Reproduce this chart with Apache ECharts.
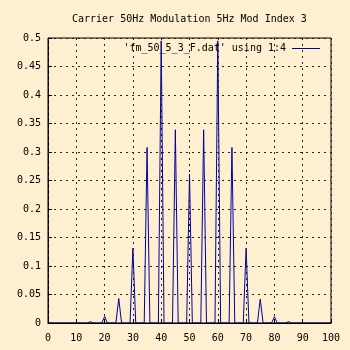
<!DOCTYPE html>
<html>
<head>
<meta charset="utf-8">
<script src="https://cdn.jsdelivr.net/npm/echarts@6/dist/echarts.min.js"></script>
<style>
  html, body { margin: 0; padding: 0; background: #fdefcf; }
  #chart { width: 350px; height: 350px; }
</style>
</head>
<body>
<div id="chart"></div>
<script>
// FM spectrum: carrier 50 Hz, modulation 5 Hz, index 3.
// Spectrum bins are 1 Hz apart; only the carrier and sideband bins carry energy.
const sidebandHz  = [15, 20, 25, 30, 35, 40, 45, 50, 55, 60, 65, 70, 75, 80, 85];
const sidebandMag = [0.0025, 0.0114, 0.043, 0.131, 0.308, 0.495, 0.339, 0.261,
                     0.339, 0.495, 0.308, 0.131, 0.042, 0.011, 0.0025];
const binStartHz = 0;
const binEndHz = 100;
const xTicks = [0, 10, 20, 30, 40, 50, 60, 70, 80, 90, 100];
const yTicks = [0, 0.05, 0.1, 0.15, 0.2, 0.25, 0.3, 0.35, 0.4, 0.45, 0.5];
const titleText = 'Carrier 50Hz Modulation 5Hz Mod Index 3';
const seriesName = "'fm_50_5_3_F.dat' using 1:4";

// One point per 1 Hz bin; bins away from the sidebands sit at zero.
const points = [];
for (let f = binStartHz; f <= binEndHz; f++) {
  const k = sidebandHz.indexOf(f);
  points.push([f, k >= 0 ? sidebandMag[k] : 0]);
}

const mono = 'DejaVu Sans Mono';
const gridDash = { color: '#222', width: 1, type: [2, 4] };

const chart = echarts.init(document.getElementById('chart'), null, { renderer: 'canvas' });
chart.setOption({
  backgroundColor: '#fdefcf',
  animation: false,
  title: {
    text: titleText,
    left: 72,
    top: 13,
    padding: 0,
    textStyle: { fontFamily: mono, fontSize: 10, fontWeight: 'normal', color: '#000', lineHeight: 12 }
  },
  legend: {
    data: [seriesName],
    right: 30,
    top: 42,
    padding: 0,
    align: 'right',
    icon: 'rect',
    itemWidth: 28,
    itemHeight: 1,
    itemGap: 0,
    textStyle: { fontFamily: mono, fontSize: 10, color: '#000', lineHeight: 13, padding: [0, 1, 0, 0] }
  },
  grid: {
    left: 48, right: 19, top: 38, bottom: 27,
    show: true, borderColor: '#000', borderWidth: 1, backgroundColor: 'transparent'
  },
  xAxis: {
    type: 'value',
    min: xTicks[0], max: xTicks[xTicks.length - 1], interval: 10,
    z: 5,
    axisLine: { show: true, onZero: false, lineStyle: { color: '#000', width: 1 } },
    axisTick: { show: true, inside: true, length: 4, lineStyle: { color: '#000' } },
    axisLabel: { margin: 10, fontFamily: mono, fontSize: 10, color: '#000' },
    splitLine: { show: true, lineStyle: gridDash }
  },
  yAxis: {
    type: 'value',
    min: yTicks[0], max: yTicks[yTicks.length - 1], interval: 0.05,
    axisLine: { show: true, lineStyle: { color: '#000', width: 1 } },
    axisTick: { show: true, inside: true, length: 4, lineStyle: { color: '#000' } },
    axisLabel: { margin: 7, fontFamily: mono, fontSize: 10, color: '#000',
      formatter: v => String(+v.toFixed(2)) },
    splitLine: { show: true, lineStyle: gridDash }
  },
  series: [{
    name: seriesName,
    type: 'line',
    data: points,
    symbol: 'none',
    z: 3,
    lineStyle: { color: '#0000a0', width: 1 },
    itemStyle: { color: '#0000a0' }
  }]
});
</script>
</body>
</html>
